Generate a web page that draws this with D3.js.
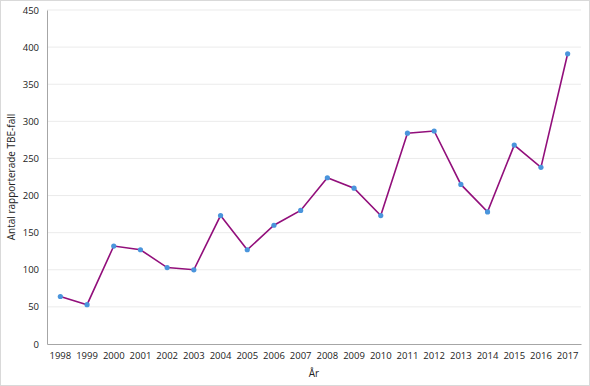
<!DOCTYPE html>
<html><head><meta charset="utf-8">
<script src="https://cdn.jsdelivr.net/npm/d3@7"></script>
<style>body{margin:0;background:#fff}svg{display:block}text{font-family:"Open Sans",sans-serif;fill:#222}</style>
</head><body>
<script>
const years = ["1998","1999","2000","2001","2002","2003","2004","2005","2006","2007","2008","2009","2010","2011","2012","2013","2014","2015","2016","2017"];
const cases = [64,53,132,127,103,100,173,127,160,180,224,210,173,284,287,215,178,268,238,391];
const yTicks = [0,50,100,150,200,250,300,350,400,450];
const xTitle = "År";
const yTitle = "Antal rapporterade TBE-fall";

const W=590,H=386;
const m={l:47,r:9,t:10,b:42};
const svg=d3.select("body").append("svg").attr("width",W).attr("height",H);
svg.append("rect").attr("x",0.5).attr("y",0.5).attr("width",W-1).attr("height",H-1).attr("fill","#fff").attr("stroke","#d9d9d9");
const x=d3.scaleBand().domain(years).range([m.l,W-m.r]);
const y=d3.scaleLinear().domain([0,450]).range([H-m.b,m.t]);

svg.append("g").selectAll("line").data(yTicks.filter(d=>d>0)).join("line")
 .attr("x1",m.l).attr("x2",W-m.r).attr("y1",d=>y(d)).attr("y2",d=>y(d)).attr("stroke","#ebebeb").attr("stroke-width",1);

const ya=svg.append("g").attr("transform",`translate(${m.l},0)`).call(d3.axisLeft(y).tickValues(yTicks).tickSize(0).tickPadding(8));
ya.select(".domain").attr("stroke","#a6a6a6");
ya.selectAll("text").style("font-size","9.5px").style("font-family","Open Sans");
const xa=svg.append("g").attr("transform",`translate(0,${H-m.b})`).call(d3.axisBottom(x).tickSize(0).tickPadding(8));
xa.select(".domain").attr("stroke","#a6a6a6");
xa.selectAll("text").style("font-size","9.5px").style("font-family","Open Sans");

const line=d3.line().x((d,i)=>x(years[i])+x.bandwidth()/2).y(d=>y(d));
svg.append("path").datum(cases).attr("d",line).attr("fill","none").attr("stroke","#920f7b").attr("stroke-width",1.6);
svg.append("g").selectAll("circle").data(cases).join("circle")
 .attr("cx",(d,i)=>x(years[i])+x.bandwidth()/2).attr("cy",d=>y(d)).attr("r",2.6).attr("fill","#4a95dc");

svg.append("text").attr("x",(m.l+W-m.r)/2).attr("y",377).attr("text-anchor","middle").style("font-size","10px").text(xTitle);
svg.append("text").attr("transform",`translate(15,${(m.t+H-m.b)/2}) rotate(-90)`).attr("text-anchor","middle").style("font-size","10px").text(yTitle);
</script>
</body></html>
